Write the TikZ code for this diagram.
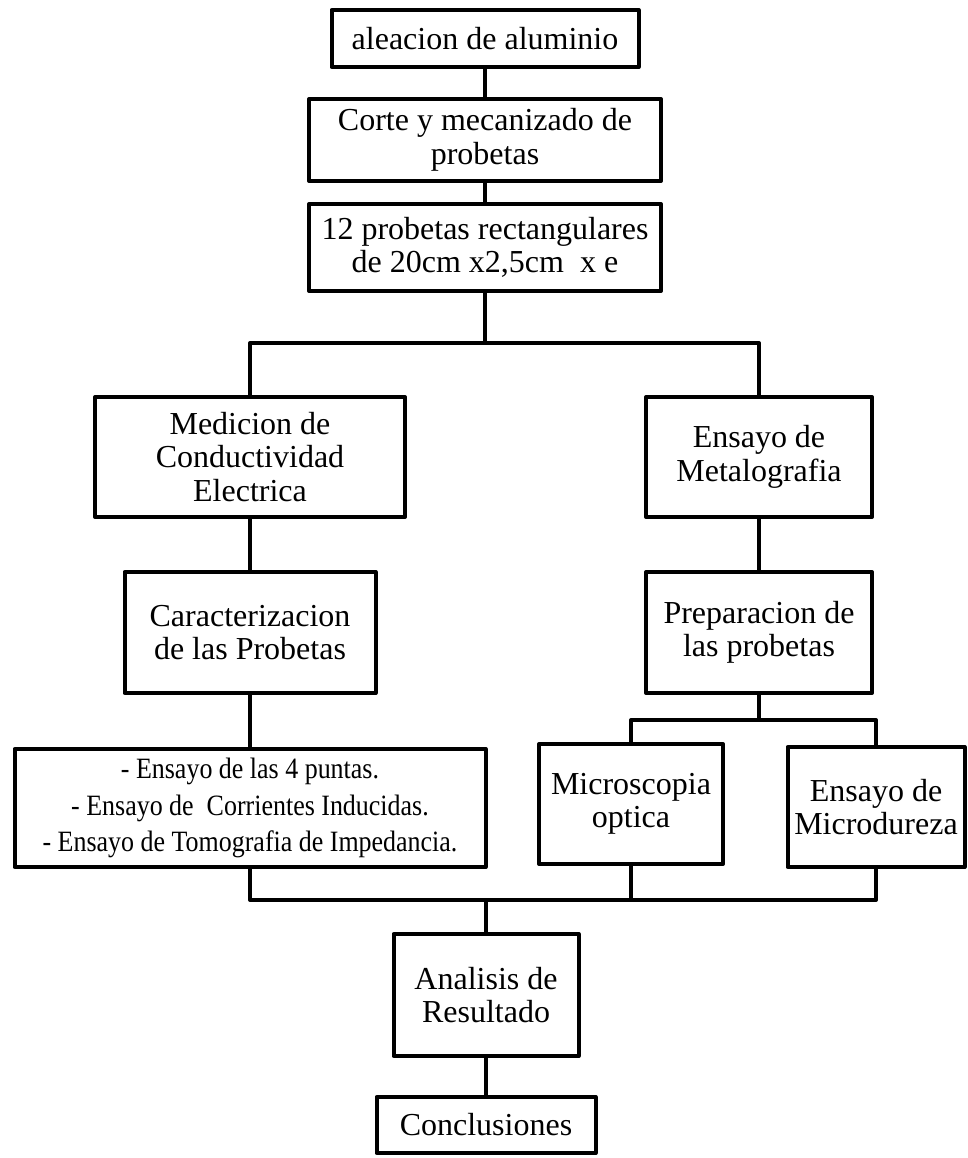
\documentclass[tikz,border=0pt]{standalone}
\usepackage{fontspec}
\setmainfont{Liberation Serif}
\newfontfamily\narrowserif[FakeStretch=0.88]{Liberation Serif}
\begin{document}
\begin{tikzpicture}[x=1pt,y=-1pt,
  line width=4pt, line join=round,
  box/.style={draw, rectangle, align=center, inner sep=0pt,
    font=\fontsize{32}{33.5}\selectfont},
  listbox/.style={box, font=\narrowserif\fontsize{29.5}{36.5}\selectfont},
  link/.style={line width=4pt}]
\useasboundingbox (0,0) rectangle (967,1158);

% main column
\node[box, minimum width=307, minimum height=57] (alea) at (485,38.5) {aleacion de aluminio};
\node[box, minimum width=352, minimum height=82] (corte) at (485,140) {Corte y mecanizado de\\probetas};
\node[box, minimum width=352, minimum height=87] (doce) at (485,247.5) {12 probetas rectangulares\\de 20cm x2,5cm\ \ x e};

% left branch
\node[box, minimum width=310, minimum height=120] (medic) at (250,457) {Medicion de\\Conductividad\\Electrica};
\node[box, minimum width=251, minimum height=121] (caract) at (250,632.5) {Caracterizacion\\de las Probetas};
\node[listbox, minimum width=471, minimum height=118] (ensay) at (250,808)
  {- Ensayo de las 4 puntas.\\- Ensayo de\ \ Corrientes Inducidas.\\- Ensayo de Tomografia de Impedancia.};

% right branch
\node[box, minimum width=226, minimum height=120] (metal) at (759,457) {Ensayo de\\Metalografia};
\node[box, minimum width=226, minimum height=121] (prep) at (759,632.5) {Preparacion de\\las probetas};
\node[box, minimum width=184, minimum height=120] (micro) at (631,804) {Microscopia\\optica};
\node[box, minimum width=177, minimum height=120] (dur) at (876,807) {Ensayo de\\Microdureza};

% closing steps
\node[box, minimum width=185, minimum height=122] (anal) at (486,995) {Analisis de\\Resultado};
\node[box, minimum width=219, minimum height=56] (concl) at (486,1125) {Conclusiones};

% junction points
\coordinate (j1) at (485,343);
\coordinate (j2) at (759,720);
\coordinate (j3) at (486,900);

% connectors
\draw[link] (alea) -- (corte);
\draw[link] (corte) -- (doce);
\draw[link] (doce.south) -- (j1);
\draw[link] (medic.north) |- (j1) -| (metal.north);
\draw[link] (medic) -- (caract);
\draw[link] (caract) -- (ensay);
\draw[link] (metal) -- (prep);
\draw[link] (prep.south) -- (j2);
\draw[link] (micro.north) |- (j2) -| (dur.north);
\draw[link] (ensay.south) |- (j3) -| (dur.south);
\draw[link] (micro.south) -- (micro.south |- j3);
\draw[link] (j3) -- (anal.north);
\draw[link] (anal) -- (concl);
\end{tikzpicture}
\end{document}
